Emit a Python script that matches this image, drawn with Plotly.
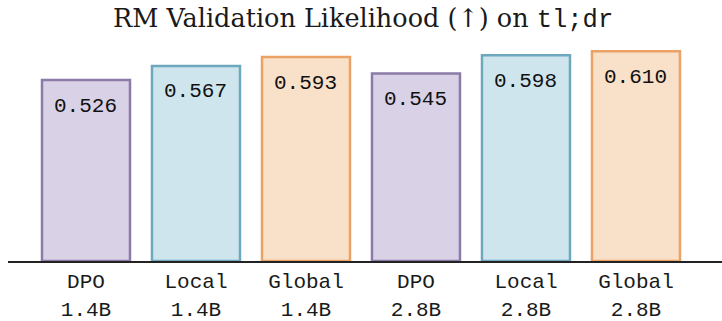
import plotly.graph_objects as go

categories = ["DPO<br>1.4B", "Local<br>1.4B", "Global<br>1.4B", "DPO<br>2.8B", "Local<br>2.8B", "Global<br>2.8B"]
values = [0.526, 0.567, 0.593, 0.545, 0.598, 0.610]
value_labels = ["0.526", "0.567", "0.593", "0.545", "0.598", "0.610"]
fill_colors = ["#d9d1e6", "#cfe5ee", "#f9e0c9", "#d9d1e6", "#cfe5ee", "#f9e0c9"]
line_colors = ["#8a7ba8", "#6ea8bf", "#eba266", "#8a7ba8", "#6ea8bf", "#eba266"]

mono = "Liberation Mono, DejaVu Sans Mono, monospace"

fig = go.Figure()
fig.add_trace(go.Bar(
    x=list(range(len(categories))),
    y=values,
    width=0.8,
    marker=dict(color=fill_colors, line=dict(color=line_colors, width=2.5)),
    hoverinfo="skip",
))

for i, (v, t) in enumerate(zip(values, value_labels)):
    fig.add_annotation(x=i, y=v, text=t, showarrow=False, yshift=-26,
                       font=dict(family=mono, size=21, color="#111111"))

fig.update_layout(
    width=722, height=321,
    margin=dict(l=8, r=0, t=3, b=60),
    paper_bgcolor="white", plot_bgcolor="white",
    showlegend=False,
    title=dict(
        text="RM Validation Likelihood (↑) on <span style='font-family:Liberation Mono'>tl;dr</span>",
        x=0.503, xanchor="center", y=0.945, yanchor="middle",
        font=dict(family="DejaVu Serif", size=25.5, color="#1a1a1a"),
    ),
    xaxis=dict(
        range=[-0.709, 5.782], automargin=False,
        tickmode="array", tickvals=list(range(len(categories))), ticktext=categories,
        tickfont=dict(family=mono, size=21, color="#1a1a1a"),
        showline=True, linecolor="#222222", linewidth=2,
        showgrid=False, zeroline=False, ticks="",
    ),
    yaxis=dict(range=[0, 0.75], visible=False, showgrid=False, zeroline=False, automargin=False),
)

fig.write_html("out.html")
